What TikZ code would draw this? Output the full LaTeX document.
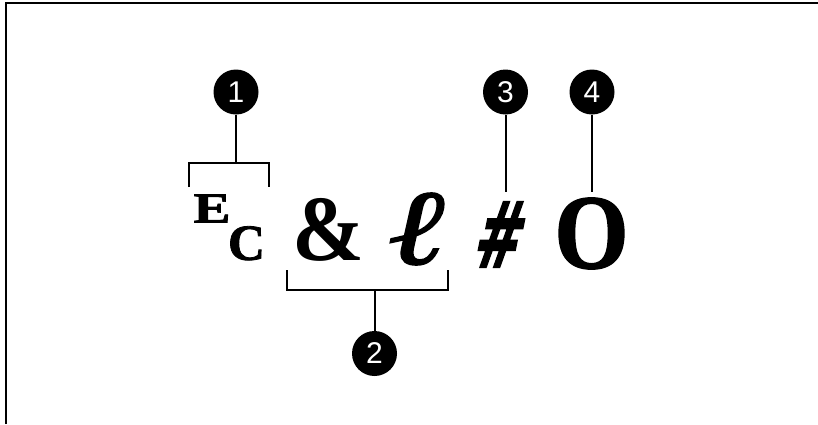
\documentclass[tikz,border=0pt]{standalone}
\usepackage{fontspec}
\usepackage{graphicx}
\newfontfamily\serifbold{Liberation Serif Bold}
\newfontfamily\heavyserif{Liberation Serif Bold}[FakeBold=1.6]
\newfontfamily\ellfont{Liberation Serif Bold Italic}[FakeBold=1.5]
\newfontfamily\hashfont{DejaVu Sans Bold}[FakeBold=2.2]
\newfontfamily\sansreg{Liberation Sans}
\begin{document}
\begin{tikzpicture}[x=1pt,y=-1pt,
  callout/.style={circle,fill=black,inner sep=0pt,minimum size=45pt,text=white,font=\sansreg\fontsize{30}{30}\selectfont},
  glyph/.style={inner sep=0pt,outer sep=0pt},
  conn/.style={line width=2pt,line cap=butt},
  frame/.style={line width=2pt}]
\useasboundingbox (0,0) rectangle (818,424);
\draw[frame] (6,424) -- (6,3.3) -- (818,3.3);
% glyphs
\node[glyph] (E) at (212,208.5) {\resizebox*{37pt}{28pt}{\heavyserif E}};
\node[glyph] (C) at (246.5,243.3) {\resizebox*{37pt}{34pt}{\heavyserif C}};
\node[glyph] (amp) at (328.5,229.5) {\resizebox*{72pt}{63pt}{\serifbold \&}};
\node[glyph] (ell) at (419,229) {\resizebox*{58pt}{72pt}{\ellfont ℓ}};
\node[glyph,xslant=0.2,transform shape] (hash) at (501.5,234.5) {\resizebox*{48pt}{65pt}{\hashfont \#}};
\node[glyph] (O) at (591.5,233.5) {\resizebox*{74pt}{71pt}{\heavyserif O}};
% callouts
\node[callout] (c1) at (236,92) {1};
\node[callout] (c2) at (374.5,353.5) {2};
\node[callout] (c3) at (505.5,92) {3};
\node[callout] (c4) at (592,92) {4};
% bracket 1
\coordinate (b1m) at (236,163);
\coordinate (b1a) at (189,163);
\coordinate (b1b) at (269,163);
\coordinate (b1al) at (189,187);
\coordinate (b1bl) at (269,187);
\draw[conn] (b1al) -- (b1a) -- (b1b) -- (b1bl);
\draw[conn] (c1) -- (b1m);
% bracket 2
\coordinate (b2m) at (374.5,290);
\coordinate (b2a) at (287,290);
\coordinate (b2b) at (448,290);
\coordinate (b2at) at (287,270);
\coordinate (b2bt) at (448,270);
\draw[conn] (b2at) -- (b2a) -- (b2b) -- (b2bt);
\draw[conn] (c2) -- (b2m);
% stems 3 and 4
\coordinate (s3) at (505.5,192);
\coordinate (s4) at (592,192);
\draw[conn] (c3) -- (s3);
\draw[conn] (c4) -- (s4);
\end{tikzpicture}
\end{document}
